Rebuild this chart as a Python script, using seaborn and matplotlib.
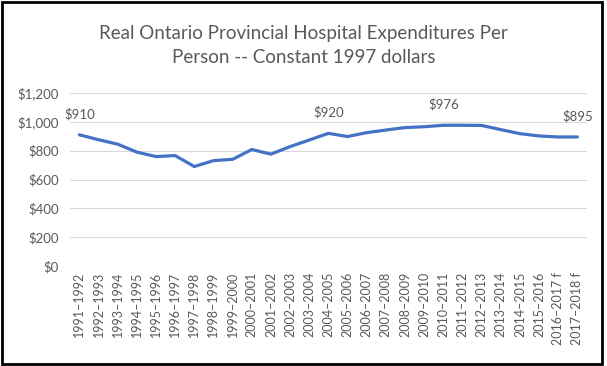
import matplotlib
matplotlib.use("Agg")
import matplotlib.pyplot as plt
import matplotlib.patches as mpatches
import seaborn as sns
import pandas as pd


sns.set_style("white")
plt.rcParams["font.family"] = ["Lato", "DejaVu Sans"]

# fiscal years (2016-17 and 2017-18 are forecasts)
years = [
    "1991–1992", "1992–1993", "1993–1994", "1994–1995", "1995–1996",
    "1996–1997", "1997–1998", "1998–1999", "1999–2000", "2000–2001",
    "2001–2002", "2002–2003", "2003–2004", "2004–2005", "2005–2006",
    "2006–2007", "2007–2008", "2008–2009", "2009–2010", "2010–2011",
    "2011–2012", "2012–2013", "2013–2014", "2014–2015", "2015–2016",
    "2016–2017 f", "2017–2018 f",
]

# real spending per person, constant 1997 dollars
spending = [
    910, 876, 845, 790, 759, 766, 690, 731, 740, 808,
    776, 828, 874, 920, 898, 925, 943, 960, 966, 976,
    976, 975, 946, 918, 902, 895, 895,
]

# points that carry a data label
labelled = [0, 13, 19, 26]

y_ticks = [0, 200, 400, 600, 800, 1000, 1200]

text_grey = "#595959"
line_blue = "#4472C4"

df = pd.DataFrame({"year": years, "spending": spending})

fig = plt.figure(figsize=(6.07, 3.66), dpi=100)
ax = fig.add_axes([0.115, 0.273, 0.852, 0.473])

sns.lineplot(
    data=df,
    x="year",
    y="spending",
    sort=False,
    color=line_blue,
    linewidth=2.3,
    ax=ax
)

for i in labelled:
    ax.annotate(
        f"${spending[i]:,}",
        xy=(i, spending[i]),
        xytext=(0, 15),
        textcoords="offset points",
        ha="center",
        va="center",
        fontsize=9.5,
        color=text_grey
    )

ax.set_xlim(-0.5, len(years) - 0.5)
ax.set_ylim(0, 1200)
ax.set_yticks(y_ticks)
ax.set_yticklabels([f"${v:,}" for v in y_ticks])
ax.set_xticks(range(len(years)))
ax.set_xticklabels(years, rotation=90)

ax.grid(axis="y", color="#D9D9D9", linewidth=0.8)
ax.grid(axis="x", visible=False)
ax.set_axisbelow(True)
ax.tick_params(axis="both", length=0, colors=text_grey)
ax.tick_params(axis="y", pad=8, labelsize=9.5)
ax.tick_params(axis="x", pad=4, labelsize=9)
for side in ["top", "right", "left", "bottom"]:
    ax.spines[side].set_visible(False)

ax.set_xlabel("")
ax.set_ylabel("")

fig.text(
    0.5, 0.875,
    "Real Ontario Provincial Hospital Expenditures Per\nPerson -- Constant 1997 dollars",
    ha="center",
    va="center",
    fontsize=13.5,
    color=text_grey,
    linespacing=1.5
)

# black frame round the chart
fig.patches.append(mpatches.Rectangle(
    (0.003, 0.005), 0.988, 0.99,
    transform=fig.transFigure,
    fill=False,
    edgecolor="black",
    linewidth=2
))

fig.savefig("out.png", dpi=100)
